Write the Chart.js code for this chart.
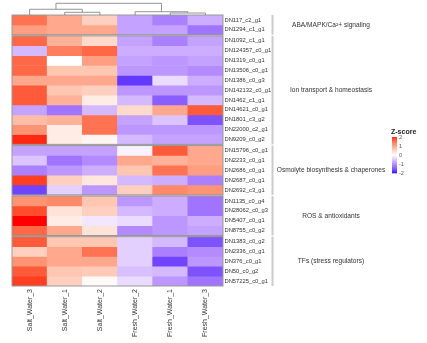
<!DOCTYPE html>
<html>
<head>
<meta charset="utf-8">
<script src="https://cdn.jsdelivr.net/npm/chart.js@4.4.0/dist/chart.umd.min.js"></script>
<style>
  html, body { margin: 0; padding: 0; background: #fff; }
  #wrap { width: 427px; height: 343px; position: relative; }
</style>
</head>
<body>
<div id="wrap"><canvas id="heatmap"></canvas></div>
<script>
// Samples in dendrogram order
const samples = ['Salt_Water_3', 'Salt_Water_1', 'Salt_Water_2', 'Fresh_Water_2', 'Fresh_Water_1', 'Fresh_Water_3'];

// Column dendrogram: ids 0-5 are samples, 6+ are the merges below in order
const mergeLeft = [1, 0, 4, 3, 7];
const mergeRight = [2, 6, 5, 8, 9];
const mergeHeight = [0.23, 0.49, 0.17, 0.28, 1.0];

// Gene groups (row splits)
const groupNames = ['ABA/MAPK/Ca²+ signaling', 'Ion transport & homeostasis', 'Osmolyte biosynthesis & chaperones', 'ROS & antioxidants', 'TFs (stress regulators)'];

const signalingGenes = ['DN117_c2_g1', 'DN1294_c1_g1'];
const signalingZ = [
    [1.4, 0.9, 0.5, -0.8, -1.1, -0.7],
    [1.0, 0.9, 0.9, -0.8, -0.8, -1.2]
];

const ionGenes = ['DN1092_c1_g1', 'DN124357_c0_g1', 'DN1319_c0_g1', 'DN13506_c0_g1', 'DN1386_c0_g3', 'DN142132_c0_g1',
    'DN1462_c1_g1', 'DN14621_c0_g1', 'DN1801_c3_g2', 'DN22000_c2_g1', 'DN9209_c0_g2'];
const ionZ = [
    [1.5, 0.8, 0.4, -0.8, -1.1, -0.8],
    [-0.6, 1.3, 1.5, -0.7, -0.7, -0.7],
    [1.5, 0.0, 1.0, -0.8, -0.9, -0.8],
    [1.5, 0.6, 0.6, -0.9, -0.9, -1.0],
    [0.9, 0.9, 0.9, -1.7, -0.3, -0.7],
    [1.6, 0.6, 0.5, -0.9, -0.9, -0.9],
    [1.6, 0.8, 0.2, -0.6, -1.4, -0.6],
    [-0.8, -1.2, -0.6, 0.4, 0.9, 1.6],
    [0.7, 0.8, 1.4, -0.8, -0.5, -1.5],
    [1.1, 0.2, 1.4, -0.9, -0.9, -0.9],
    [1.9, 0.2, 0.1, -0.6, -0.8, -0.8]
];

const osmolyteGenes = ['DN15796_c0_g1', 'DN2233_c0_g1', 'DN2686_c0_g1', 'DN2687_c0_g1', 'DN2692_c3_g1'];
const osmolyteZ = [
    [-0.8, -0.8, -0.8, -0.1, 1.6, 0.9],
    [-0.5, -1.2, -1.0, 0.9, 0.8, 0.9],
    [-1.1, -0.9, -0.7, 0.6, 1.4, 1.0],
    [1.8, 0.5, 0.25, -0.6, -0.7, -1.1],
    [-1.6, -0.4, -0.9, 0.5, 1.2, 1.1]
];

const rosGenes = ['DN1135_c0_g4', 'DN28062_c0_g3', 'DN5407_c0_g1', 'DN8755_c0_g2'];
const rosZ = [
    [1.1, 1.2, 0.6, -0.9, -0.7, -1.2],
    [1.7, 0.3, 0.5, -0.6, -0.7, -1.2],
    [2.0, 0.2, -0.2, -0.3, -0.9, -0.7],
    [1.5, 0.9, 0.3, -1.0, -0.9, -0.8]
];

const tfGenes = ['DN1383_c0_g2', 'DN2336_c0_g1', 'DN376_c0_g1', 'DN50_c0_g2', 'DN57225_c0_g1'];
const tfZ = [
    [1.6, 0.6, 0.6, -0.4, -0.6, -1.5],
    [0.5, 0.9, 1.4, -0.4, -1.1, -1.0],
    [1.1, 0.9, 0.9, -0.4, -1.6, -0.9],
    [1.6, 0.6, 0.55, -0.55, -0.6, -1.5],
    [1.8, 0.5, 0.05, -0.3, -0.9, -1.2]
];

// Colour scale breaks
const legendTicks = [2, 1, 0, -1, -2];
const colorBreaks = [-2, 0, 2];
const colorStops = [[0, 0, 255], [255, 255, 255], [255, 0, 0]];

const groupGenes = [signalingGenes, ionGenes, osmolyteGenes, rosGenes, tfGenes];
const groupZ = [signalingZ, ionZ, osmolyteZ, rosZ, tfZ];

const FONT = "'Liberation Sans', Arial, sans-serif";
const GAP = 0.12;          // gap between row groups, in row units
const DENDRO_PX = 11.7;    // height of the column dendrogram

// --- colour mapping, interpolated in LAB space ---
function toLinear(c) {
    c /= 255;
    return c <= 0.04045 ? c / 12.92 : Math.pow((c + 0.055) / 1.055, 2.4);
}
function toSrgb(c) {
    c = Math.min(1, Math.max(0, c));
    return 255 * (c <= 0.0031308 ? 12.92 * c : 1.055 * Math.pow(c, 1 / 2.4) - 0.055);
}
function rgbToLab([r, g, b]) {
    const R = toLinear(r), G = toLinear(g), B = toLinear(b);
    const X = (0.4124 * R + 0.3576 * G + 0.1805 * B) / 0.95047;
    const Y = 0.2126 * R + 0.7152 * G + 0.0722 * B;
    const Z = (0.0193 * R + 0.1192 * G + 0.9505 * B) / 1.08883;
    const f = t => t > 0.008856 ? Math.cbrt(t) : 7.787 * t + 16 / 116;
    const fx = f(X), fy = f(Y), fz = f(Z);
    return [116 * fy - 16, 500 * (fx - fy), 200 * (fy - fz)];
}
function labToRgb([L, a, b]) {
    const fy = (L + 16) / 116, fx = fy + a / 500, fz = fy - b / 200;
    const inv = t => t * t * t > 0.008856 ? t * t * t : (t - 16 / 116) / 7.787;
    const X = inv(fx) * 0.95047, Y = inv(fy), Z = inv(fz) * 1.08883;
    const R = 3.2406 * X - 1.5372 * Y - 0.4986 * Z;
    const G = -0.9689 * X + 1.8758 * Y + 0.0415 * Z;
    const B = 0.0557 * X - 0.2040 * Y + 1.0570 * Z;
    return `rgb(${Math.round(toSrgb(R))},${Math.round(toSrgb(G))},${Math.round(toSrgb(B))})`;
}
const labStops = colorStops.map(rgbToLab);

function zColor(z) {
    z = Math.max(colorBreaks[0], Math.min(colorBreaks[2], z));
    const i = z <= colorBreaks[1] ? 0 : 1;
    const t = (z - colorBreaks[i]) / (colorBreaks[i + 1] - colorBreaks[i]);
    const a = labStops[i], b = labStops[i + 1];
    return labToRgb([0, 1, 2].map(k => a[k] + (b[k] - a[k]) * t));
}

// --- row layout in row units ---
const rowLabels = [];
const rowTops = [];
const rowValues = [];
const groupSpans = [];
let cursor = 0;
groupGenes.forEach((genes, g) => {
    const start = cursor;
    genes.forEach((gene, r) => {
        rowLabels.push(gene);
        rowTops.push(cursor);
        rowValues.push(groupZ[g][r]);
        cursor += 1;
    });
    groupSpans.push([start, cursor]);
    if (g < groupGenes.length - 1) cursor += GAP;
});
const totalUnits = cursor;
const rowCenters = rowTops.map(t => t + 0.5);

const datasets = rowValues.map((vals, i) => ({
    label: rowLabels[i],
    data: vals.map(() => [rowTops[i], rowTops[i] + 1]),
    backgroundColor: vals.map(zColor),
    borderWidth: 0,
    grouped: false,
    barPercentage: 1,
    categoryPercentage: 1
}));

// --- annotations: dendrogram, group borders, split labels, colour key ---
const decorations = {
    id: 'decorations',
    afterDatasetsDraw(chart) {
        const { ctx, chartArea, scales } = chart;
        const xs = scales.x, ys = scales.y;
        ctx.save();

        // group outlines
        ctx.strokeStyle = '#999';
        ctx.lineWidth = 1;
        groupSpans.forEach(([s, e]) => {
            const top = ys.getPixelForValue(s), bottom = ys.getPixelForValue(e);
            ctx.strokeRect(chartArea.left, top, chartArea.right - chartArea.left, bottom - top);
        });

        // column dendrogram
        const nodeX = samples.map((_, i) => i);
        const nodeH = samples.map(() => 0);
        const hPix = h => chartArea.top - h * DENDRO_PX;
        ctx.strokeStyle = '#7a7a7a';
        ctx.lineWidth = 0.8;
        mergeHeight.forEach((h, m) => {
            const l = mergeLeft[m], r = mergeRight[m];
            const xl = xs.getPixelForValue(nodeX[l]), xr = xs.getPixelForValue(nodeX[r]);
            ctx.beginPath();
            ctx.moveTo(xl, hPix(nodeH[l]));
            ctx.lineTo(xl, hPix(h));
            ctx.lineTo(xr, hPix(h));
            ctx.lineTo(xr, hPix(nodeH[r]));
            ctx.stroke();
            nodeX.push((nodeX[l] + nodeX[r]) / 2);
            nodeH.push(h);
        });

        // split bars and titles
        const barX = chartArea.right + 48.5;
        const labelX = chartArea.right + 108;
        ctx.font = `6.6px ${FONT}`;
        ctx.textAlign = 'center';
        ctx.textBaseline = 'middle';
        groupSpans.forEach(([s, e], g) => {
            const top = ys.getPixelForValue(s), bottom = ys.getPixelForValue(e);
            ctx.fillStyle = '#cbcbcb';
            ctx.fillRect(barX, top, 2, bottom - top);
            ctx.fillStyle = '#333';
            ctx.fillText(groupNames[g], labelX, (top + bottom) / 2);
        });

        // colour key
        const keyX = chartArea.right + 169, keyTop = 137, keyH = 36;
        ctx.textAlign = 'left';
        ctx.fillStyle = '#222';
        ctx.font = `bold 7px ${FONT}`;
        ctx.fillText('Z-score', keyX - 1, 132);
        const steps = 72;
        for (let i = 0; i < steps; i++) {
            const v = legendTicks[0] - (legendTicks[0] - legendTicks[4]) * (i + 0.5) / steps;
            ctx.fillStyle = zColor(v);
            ctx.fillRect(keyX, keyTop + keyH * i / steps, 5, keyH / steps + 0.3);
        }
        ctx.fillStyle = '#555';
        ctx.font = `5.5px ${FONT}`;
        legendTicks.forEach(v => {
            const y = keyTop + (legendTicks[0] - v) / (legendTicks[0] - legendTicks[4]) * keyH;
            ctx.fillText(String(v), keyX + 7, y);
        });
        ctx.restore();
    }
};

new Chart(document.getElementById('heatmap'), {
    type: 'bar',
    data: { labels: samples, datasets },
    plugins: [decorations],
    options: {
        responsive: true,
        maintainAspectRatio: false,
        animation: false,
        layout: { padding: { top: 15, left: 12, right: 0, bottom: 0 } },
        plugins: { legend: { display: false }, tooltip: { enabled: false } },
        scales: {
            x: {
                type: 'category',
                grid: { display: false, drawTicks: false },
                border: { display: false },
                ticks: {
                    minRotation: 90, maxRotation: 90, autoSkip: false, padding: 3,
                    color: '#333', font: { family: FONT, size: 7 }
                },
                afterFit: axis => { axis.height = 57; }
            },
            y: {
                type: 'linear',
                position: 'right',
                reverse: true,
                min: 0,
                max: totalUnits,
                grid: { display: false, drawTicks: false },
                border: { display: false },
                ticks: {
                    autoSkip: false, padding: 1.5,
                    color: '#333', font: { family: FONT, size: 5.8 },
                    callback: (value, index) => rowLabels[index]
                },
                afterBuildTicks: axis => { axis.ticks = rowCenters.map(v => ({ value: v })); },
                afterFit: axis => { axis.width = 204; }
            }
        }
    }
});
</script>
</body>
</html>
